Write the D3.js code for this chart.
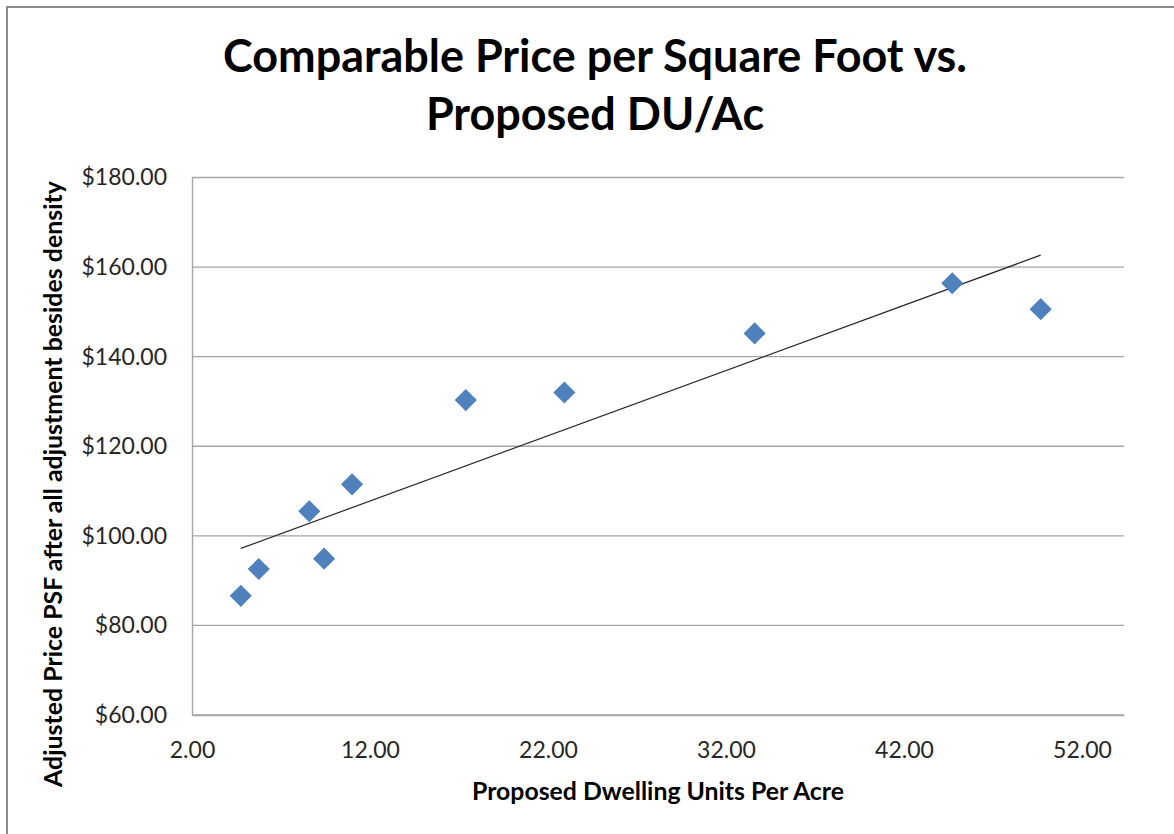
<!DOCTYPE html>
<html>
<head>
<meta charset="utf-8">
<script src="https://cdn.jsdelivr.net/npm/d3@7"></script>
<style>
  body { margin: 0; background: #fff; }
  svg { display: block; }
</style>
</head>
<body>
<div id="chart"></div>
<script>
// data
var duPerAcre = [4.74, 5.75, 8.59, 9.42, 10.99, 17.38, 22.92, 33.61, 44.71, 49.68];
var pricePsf  = [86.6, 92.6, 105.5, 94.9, 111.5, 130.3, 132.0, 145.2, 156.4, 150.6];
var xTicks = [2, 12, 22, 32, 42, 52];
var yTicks = [60, 80, 100, 120, 140, 160, 180];
var xMax = 54.36;

var W = 1174, H = 834;
var plot = {left: 192, right: 1124, top: 177.5, bottom: 715};
var font = "Lato, 'Open Sans', sans-serif";

var svg = d3.select("#chart").append("svg")
    .attr("width", W)
    .attr("height", H);

// chart frame
svg.append("rect")
    .attr("x", 7).attr("y", 7)
    .attr("width", 1300).attr("height", 1000)
    .attr("fill", "none")
    .attr("stroke", "#8c8c8c")
    .attr("stroke-width", 2);

var x = d3.scaleLinear().domain([2, xMax]).range([plot.left, plot.right]);
var y = d3.scaleLinear().domain([60, 180]).range([plot.bottom, plot.top]);

// make a text element fill a given width by tuning its font size
function fitWidth(sel, target) {
  var s = parseFloat(sel.attr("font-size"));
  var len = sel.node().getComputedTextLength();
  sel.attr("font-size", (s * target / len).toFixed(2));
}

// gridlines
svg.append("g")
  .selectAll("line")
  .data(yTicks)
  .enter().append("line")
    .attr("x1", plot.left).attr("x2", plot.right)
    .attr("y1", function(d) { return y(d); })
    .attr("y2", function(d) { return y(d); })
    .attr("stroke", "#a6a6a6")
    .attr("stroke-width", 1.4);

// Y axis
var yAxis = svg.append("g")
  .attr("transform", "translate(" + plot.left + ",0)")
  .call(d3.axisLeft(y).tickValues(yTicks).tickSize(0).tickPadding(25)
        .tickFormat(function(d) { return "$" + d3.format(".2f")(d); }));
yAxis.select(".domain").attr("stroke", "#a6a6a6").attr("stroke-width", 1.4);
yAxis.selectAll("text")
  .attr("font-family", font)
  .attr("font-size", 23)
  .attr("fill", "#262626");

// X axis
var xAxis = svg.append("g")
  .attr("transform", "translate(0," + plot.bottom + ")")
  .call(d3.axisBottom(x).tickValues(xTicks).tickSize(0).tickPadding(27)
        .tickFormat(d3.format(".2f")));
xAxis.select(".domain").attr("stroke", "#a6a6a6").attr("stroke-width", 1.4);
xAxis.selectAll("text")
  .attr("font-family", font)
  .attr("font-size", 23)
  .attr("fill", "#262626");

// linear trendline (least squares)
var n = duPerAcre.length;
var mx = d3.mean(duPerAcre), my = d3.mean(pricePsf);
var sxy = 0, sxx = 0;
for (var i = 0; i < n; i++) {
  sxy += (duPerAcre[i] - mx) * (pricePsf[i] - my);
  sxx += (duPerAcre[i] - mx) * (duPerAcre[i] - mx);
}
var slope = sxy / sxx, icpt = my - slope * mx;
var x0 = d3.min(duPerAcre), x1 = d3.max(duPerAcre);

svg.append("line")
    .attr("x1", x(x0)).attr("y1", y(icpt + slope * x0))
    .attr("x2", x(x1)).attr("y2", y(icpt + slope * x1))
    .attr("stroke", "#262626")
    .attr("stroke-width", 1.2);

// diamond markers
var diamond = d3.symbol().type(d3.symbolSquare).size(245);
svg.append("g")
  .selectAll("path")
  .data(duPerAcre)
  .enter().append("path")
    .attr("d", diamond)
    .attr("transform", function(d, i) {
      return "translate(" + x(d) + "," + y(pricePsf[i]) + ") rotate(45)";
    })
    .attr("fill", "#4f81bd");

// title
var t1 = svg.append("text")
    .attr("x", 595).attr("y", 72)
    .attr("text-anchor", "middle")
    .attr("font-family", font).attr("font-weight", "bold")
    .attr("font-size", 44).attr("fill", "#000")
    .text("Comparable Price per Square Foot vs.");
fitWidth(t1, 744);
svg.append("text")
    .attr("x", 595).attr("y", 130)
    .attr("text-anchor", "middle")
    .attr("font-family", font).attr("font-weight", "bold")
    .attr("font-size", t1.attr("font-size")).attr("fill", "#000")
    .text("Proposed DU/Ac");

// axis titles
var xt = svg.append("text")
    .attr("x", (plot.left + plot.right) / 2).attr("y", 800)
    .attr("text-anchor", "middle")
    .attr("font-family", font).attr("font-weight", "bold")
    .attr("font-size", 22).attr("fill", "#000")
    .text("Proposed Dwelling Units Per Acre");
fitWidth(xt, 372);

var yt = svg.append("text")
    .attr("transform", "translate(62,484) rotate(-90)")
    .attr("text-anchor", "middle")
    .attr("font-family", font).attr("font-weight", "bold")
    .attr("font-size", 22).attr("fill", "#000")
    .text("Adjusted Price PSF after all adjustment besides density");
fitWidth(yt, 606);
</script>
</body>
</html>
